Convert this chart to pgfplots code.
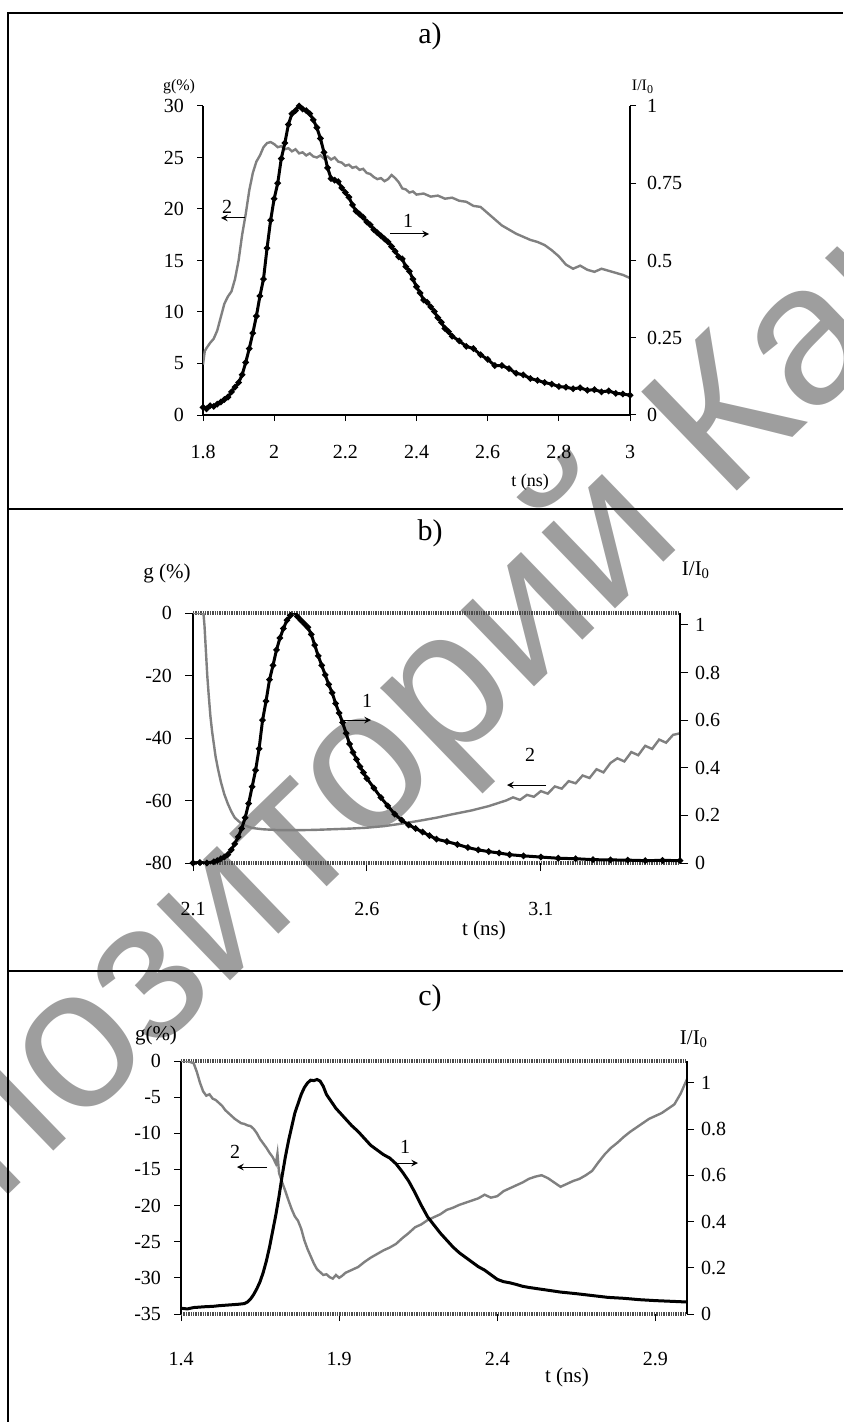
\documentclass[border=0pt]{standalone}
\usepackage{fontspec}
\setmainfont{Liberation Serif}
\newfontfamily\wmfont{Liberation Sans}
\usepackage{pgfplots}
\pgfplotsset{compat=1.18}

% ---------------- data ----------------
\pgfplotstableread{
t I
1.800 0.025
1.810 0.020
1.820 0.030
1.830 0.028
1.840 0.035
1.850 0.042
1.860 0.050
1.870 0.058
1.880 0.075
1.890 0.090
1.900 0.105
1.910 0.130
1.920 0.170
1.930 0.215
1.940 0.265
1.950 0.320
1.960 0.385
1.970 0.440
1.980 0.540
1.990 0.630
2.000 0.700
2.010 0.750
2.020 0.830
2.030 0.880
2.040 0.940
2.050 0.975
2.060 0.985
2.070 1.000
2.080 0.990
2.090 0.985
2.100 0.975
2.110 0.955
2.120 0.930
2.130 0.895
2.140 0.850
2.150 0.800
2.160 0.765
2.170 0.760
2.180 0.755
2.190 0.735
2.200 0.720
2.210 0.705
2.220 0.680
2.230 0.660
2.240 0.650
2.250 0.640
2.260 0.625
2.270 0.615
2.280 0.600
2.290 0.590
2.300 0.580
2.310 0.570
2.320 0.560
2.330 0.545
2.340 0.530
2.350 0.512
2.360 0.505
2.370 0.480
2.380 0.465
2.390 0.440
2.400 0.415
2.410 0.395
2.420 0.372
2.430 0.365
2.440 0.350
2.450 0.335
2.460 0.315
2.470 0.300
2.480 0.280
2.490 0.270
2.500 0.255
2.520 0.240
2.540 0.222
2.560 0.215
2.580 0.195
2.600 0.180
2.620 0.160
2.640 0.160
2.660 0.150
2.680 0.135
2.700 0.130
2.720 0.118
2.740 0.112
2.760 0.105
2.780 0.100
2.800 0.092
2.820 0.090
2.840 0.085
2.860 0.088
2.880 0.080
2.900 0.082
2.920 0.075
2.940 0.078
2.960 0.070
2.980 0.068
3.000 0.064
}\dataAone

\pgfplotstableread{
t g
1.800 4.9
1.805 6.2
1.810 6.5
1.820 7.0
1.830 7.4
1.840 8.2
1.850 9.5
1.860 10.8
1.870 11.5
1.880 12.0
1.890 13.2
1.900 15.0
1.910 17.5
1.920 19.5
1.930 21.8
1.940 23.5
1.950 24.6
1.960 25.2
1.970 26.0
1.980 26.4
1.990 26.5
2.000 26.3
2.010 26.0
2.020 26.1
2.030 25.8
2.040 25.9
2.050 25.6
2.060 25.8
2.070 25.4
2.080 25.5
2.090 25.2
2.100 25.4
2.110 25.1
2.120 25.0
2.130 25.2
2.140 24.9
2.150 25.1
2.160 24.8
2.170 25.0
2.180 24.6
2.190 24.5
2.200 24.2
2.210 24.3
2.220 24.0
2.230 24.1
2.240 23.8
2.250 23.9
2.260 23.5
2.270 23.4
2.280 23.1
2.290 22.9
2.300 23.0
2.310 22.7
2.320 22.9
2.330 23.3
2.340 23.0
2.350 22.6
2.360 22.0
2.370 21.9
2.380 21.6
2.390 21.7
2.400 21.4
2.420 21.5
2.440 21.2
2.460 21.3
2.480 21.0
2.500 21.1
2.520 20.8
2.540 20.7
2.560 20.3
2.580 20.2
2.600 19.6
2.620 19.0
2.640 18.4
2.660 18.0
2.680 17.6
2.700 17.3
2.720 17.0
2.740 16.8
2.760 16.5
2.780 16.0
2.800 15.4
2.820 14.6
2.840 14.2
2.860 14.5
2.880 14.1
2.900 13.9
2.920 14.2
2.940 14.0
2.960 13.8
2.980 13.6
3.000 13.3
}\dataAtwo

\pgfplotstableread{
t I
2.100 0.000
2.120 0.002
2.140 0.000
2.160 0.005
2.170 0.010
2.180 0.018
2.190 0.025
2.200 0.035
2.210 0.055
2.220 0.080
2.230 0.110
2.240 0.145
2.250 0.190
2.260 0.250
2.270 0.320
2.280 0.390
2.290 0.480
2.300 0.600
2.310 0.680
2.320 0.770
2.330 0.830
2.340 0.895
2.350 0.945
2.360 0.985
2.370 1.020
2.380 1.040
2.390 1.055
2.400 1.035
2.410 1.020
2.420 1.005
2.430 0.990
2.440 0.960
2.450 0.915
2.460 0.870
2.470 0.830
2.480 0.790
2.490 0.750
2.500 0.715
2.510 0.670
2.520 0.630
2.530 0.590
2.540 0.545
2.550 0.500
2.560 0.465
2.570 0.435
2.580 0.405
2.590 0.380
2.600 0.355
2.620 0.315
2.640 0.275
2.660 0.240
2.680 0.205
2.700 0.180
2.720 0.160
2.740 0.145
2.760 0.130
2.780 0.115
2.800 0.100
2.830 0.090
2.860 0.078
2.890 0.065
2.920 0.055
2.950 0.048
2.980 0.042
3.010 0.035
3.050 0.030
3.100 0.025
3.150 0.020
3.200 0.018
3.250 0.014
3.300 0.013
3.350 0.012
3.400 0.010
3.450 0.011
3.500 0.010
}\dataBone

\pgfplotstableread{
t g
2.100 0
2.130 0
2.133 -4
2.137 -12
2.141 -20
2.145 -26
2.150 -33
2.155 -38
2.160 -42
2.165 -46
2.172 -50
2.180 -54
2.190 -58
2.200 -61
2.210 -63.5
2.220 -65.5
2.235 -67
2.250 -68
2.270 -68.8
2.300 -69.2
2.350 -69.5
2.400 -69.5
2.450 -69.4
2.500 -69.2
2.550 -69.0
2.600 -68.7
2.650 -68.2
2.700 -67.4
2.750 -66.5
2.800 -65.5
2.850 -64.3
2.900 -63.2
2.950 -61.8
3.000 -60.0
3.020 -59.0
3.040 -59.8
3.060 -58.2
3.080 -58.8
3.100 -57.0
3.120 -57.8
3.140 -55.5
3.160 -56.2
3.180 -53.8
3.200 -54.5
3.220 -52.0
3.240 -52.8
3.260 -50.0
3.280 -51.0
3.300 -48.0
3.320 -46.5
3.340 -47.5
3.360 -44.5
3.380 -45.5
3.400 -42.5
3.420 -43.5
3.440 -40.5
3.460 -41.5
3.480 -39.0
3.500 -38.5
}\dataBtwo

\pgfplotstableread{
t I
1.400 0.025
1.420 0.022
1.440 0.028
1.460 0.030
1.480 0.032
1.500 0.033
1.520 0.036
1.540 0.038
1.560 0.040
1.580 0.042
1.600 0.045
1.610 0.052
1.620 0.065
1.630 0.085
1.640 0.110
1.650 0.140
1.660 0.180
1.670 0.230
1.680 0.290
1.690 0.360
1.700 0.430
1.710 0.510
1.720 0.600
1.730 0.680
1.740 0.750
1.750 0.810
1.760 0.870
1.770 0.910
1.780 0.950
1.790 0.980
1.800 1.000
1.810 1.012
1.820 1.010
1.830 1.015
1.840 1.008
1.850 0.985
1.860 0.950
1.870 0.930
1.880 0.910
1.890 0.890
1.900 0.875
1.920 0.845
1.940 0.815
1.960 0.790
1.980 0.760
2.000 0.730
2.020 0.710
2.040 0.690
2.060 0.675
2.080 0.650
2.100 0.615
2.120 0.575
2.140 0.525
2.160 0.470
2.180 0.420
2.200 0.385
2.220 0.350
2.240 0.320
2.260 0.290
2.280 0.265
2.300 0.245
2.320 0.225
2.340 0.205
2.360 0.190
2.380 0.170
2.400 0.150
2.420 0.140
2.440 0.135
2.460 0.128
2.480 0.120
2.500 0.115
2.550 0.105
2.600 0.095
2.650 0.088
2.700 0.080
2.750 0.072
2.800 0.068
2.850 0.062
2.900 0.058
2.950 0.055
3.000 0.052
}\dataCone

\pgfplotstableread{
t g
1.400 0.0
1.420 0.0
1.440 -0.3
1.450 -1.5
1.460 -3.0
1.470 -4.2
1.480 -4.8
1.490 -4.6
1.500 -5.2
1.510 -5.4
1.520 -5.8
1.530 -6.2
1.540 -6.8
1.550 -7.2
1.560 -7.6
1.570 -8.0
1.580 -8.3
1.590 -8.6
1.600 -8.7
1.610 -8.9
1.620 -9.0
1.630 -9.4
1.640 -10.0
1.650 -10.8
1.660 -11.4
1.670 -12.0
1.680 -12.7
1.690 -13.3
1.700 -14.2
1.705 -12.8
1.710 -15.5
1.720 -16.8
1.730 -18.0
1.740 -19.3
1.750 -20.5
1.760 -21.5
1.770 -22.1
1.780 -23.2
1.790 -24.8
1.800 -26.0
1.810 -27.0
1.820 -28.0
1.830 -28.8
1.840 -29.2
1.850 -29.6
1.860 -29.5
1.870 -29.9
1.880 -30.1
1.890 -29.6
1.900 -30.0
1.910 -29.7
1.920 -29.3
1.940 -28.9
1.960 -28.5
1.980 -27.8
2.000 -27.2
2.020 -26.7
2.040 -26.2
2.060 -25.8
2.080 -25.3
2.100 -24.5
2.120 -23.8
2.140 -23.0
2.160 -22.6
2.180 -22.0
2.200 -21.6
2.220 -21.2
2.240 -20.6
2.260 -20.3
2.280 -19.9
2.300 -19.6
2.320 -19.3
2.340 -19.0
2.360 -18.5
2.380 -18.9
2.400 -18.7
2.420 -18.0
2.440 -17.6
2.460 -17.2
2.480 -16.8
2.500 -16.3
2.520 -16.0
2.540 -15.8
2.560 -16.2
2.580 -16.8
2.600 -17.4
2.620 -17.0
2.640 -16.6
2.660 -16.3
2.680 -15.8
2.700 -15.2
2.720 -14.0
2.740 -12.9
2.760 -12.0
2.780 -11.3
2.800 -10.5
2.820 -9.8
2.840 -9.2
2.860 -8.6
2.880 -8.0
2.900 -7.6
2.920 -7.2
2.940 -6.6
2.960 -6.0
2.980 -4.5
3.000 -2.5
}\dataCtwo

\tikzset{
  dotline/.style={line width=1.6pt, black!70, dash pattern=on 0.7pt off 0.5pt},
  curveone/.style={black, line width=1.5pt, mark=*, mark size=0.7pt},
  curvetwo/.style={black!50, line width=1.2pt},
}
\pgfplotsset{
  base/.style={
    scale only axis, anchor=south west,
    /pgf/number format/assume math mode=true,
    tick label style={font=\fontsize{10}{12}\selectfont},
    tick align=outside, major tick length=3pt,
    tick style={black, line width=0.5pt},
    axis line style={-, line width=0.6pt},
    every outer x axis line/.append style={-},
    every outer y axis line/.append style={-},
    xticklabel style={yshift=-12pt},
  },
}

\begin{document}
\begin{tikzpicture}
\begin{scope}[x=0.5pt, y=-0.5pt]
  \path[use as bounding box] (0,0) rectangle (843,1422);
  % watermark
  \node[rotate=44, anchor=base west, inner sep=0pt, text=black!38,
        font=\wmfont\fontsize{100}{100}\selectfont] at (-172,1369) {Репозиторий КарГУ};
  % frame
  \draw[line width=1.1pt] (8,1422) -- (8,13) -- (843,13);
  \draw[line width=1.1pt] (8,509) -- (843,509);
  \draw[line width=1.1pt] (8,971) -- (843,971);
\end{scope}

% ================= panel a =================
\begin{axis}[base, at={(101.5pt,-207.5pt)}, width=213.5pt, height=154.5pt,
  xmin=1.8, xmax=3, ymin=0, ymax=30,
  axis x line*=bottom, axis y line*=left,
  xticklabel style={yshift=3.5pt},
  xtick={1.8,2,2.2,2.4,2.6,2.8,3}, xticklabels={1.8,2,2.2,2.4,2.6,2.8,3},
  ytick={0,5,10,15,20,25,30}, yticklabels={0,5,10,15,20,25,30},
  yticklabel style={xshift=-3pt}]
  \addplot[curvetwo] table[x=t,y=g] {\dataAtwo};
\end{axis}
\begin{axis}[base, at={(101.5pt,-207.5pt)}, width=213.5pt, height=154.5pt,
  xmin=1.8, xmax=3, ymin=0, ymax=1,
  axis x line=none, axis y line*=right,
  ytick={0,0.25,0.5,0.75,1}, yticklabels={0,0.25,0.5,0.75,1},
  yticklabel style={xshift=2pt}]
  \addplot[curveone] table[x=t,y=I] {\dataAone};
\end{axis}

% ================= panel b =================
\begin{axis}[base, at={(96.5pt,-431.5pt)}, width=243.5pt, height=125pt,
  xmin=2.1, xmax=3.5, ymin=-80, ymax=0,
  separate axis lines, x axis line style={dotline}, y axis line style={line width=0.6pt},
  xtick pos=left, ytick pos=left, major tick length=4pt,
  xtick={2.1,2.6,3.1}, xticklabels={2.1,2.6,3.1},
  ytick={-80,-60,-40,-20,0}, yticklabels={-80,-60,-40,-20,0},
  yticklabel style={xshift=-3pt}]
  \addplot[curvetwo] table[x=t,y=g] {\dataBtwo};
\end{axis}
\begin{axis}[base, at={(96.5pt,-431.5pt)}, width=243.5pt, height=125pt,
  xmin=2.1, xmax=3.5, ymin=0, ymax=1.05,
  axis x line=none, axis y line*=right, major tick length=4pt,
  ytick={0,0.2,0.4,0.6,0.8,1}, yticklabels={0,0.2,0.4,0.6,0.8,1}]
  \addplot[curveone] table[x=t,y=I] {\dataBone};
\end{axis}

% ================= panel c =================
\begin{axis}[base, at={(90.5pt,-657pt)}, width=253pt, height=126.5pt,
  xmin=1.4, xmax=3.0, ymin=-35, ymax=0,
  separate axis lines, x axis line style={dotline}, y axis line style={line width=0.6pt},
  xtick pos=left, ytick pos=left, major tick length=3.5pt,
  xtick={1.4,1.9,2.4,2.9}, xticklabels={1.4,1.9,2.4,2.9},
  ytick={-35,-30,-25,-20,-15,-10,-5,0}, yticklabels={-35,-30,-25,-20,-15,-10,-5,0},
  yticklabel style={xshift=-3pt}]
  \addplot[curvetwo] table[x=t,y=g] {\dataCtwo};
\end{axis}
\begin{axis}[base, at={(90.5pt,-657pt)}, width=253pt, height=126.5pt,
  xmin=1.4, xmax=3.0, ymin=0, ymax=1.095,
  axis x line=none, axis y line*=right, major tick length=3.5pt,
  ytick={0,0.2,0.4,0.6,0.8,1}, yticklabels={0,0.2,0.4,0.6,0.8,1}]
  \addplot[black, line width=1.5pt] table[x=t,y=I] {\dataCone};
\end{axis}

% ================= labels =================
\begin{scope}[x=0.5pt, y=-0.5pt]
  \node[font=\fontsize{15}{18}\selectfont] at (430,36) {a)};
  \node[font=\fontsize{15}{18}\selectfont] at (430,533) {b)};
  \node[font=\fontsize{15}{18}\selectfont] at (430,998) {c)};

  \node[font=\fontsize{8}{10}\selectfont] at (179,87) {g(\%)};
  \node[font=\fontsize{8}{10}\selectfont] at (643,87) {I/I\textsubscript{0}};
  \node[font=\fontsize{9}{11}\selectfont] at (530,482) {t (ns)};

  \node[font=\fontsize{10.5}{12}\selectfont] at (167,573) {g (\%)};
  \node[font=\fontsize{10.5}{12}\selectfont] at (696,570) {I/I\textsubscript{0}};
  \node[font=\fontsize{10.5}{12}\selectfont] at (484,930) {t (ns)};

  \node[font=\fontsize{10.5}{12}\selectfont] at (156,1035) {g(\%)};
  \node[font=\fontsize{10.5}{12}\selectfont] at (694,1039) {I/I\textsubscript{0}};
  \node[font=\fontsize{10.5}{12}\selectfont] at (567,1377) {t (ns)};

  % curve markers
  \node[font=\fontsize{10}{12}\selectfont] at (227,207) {2};
  \draw[-stealth, line width=0.5pt] (245,218) -- (221,218);
  \node[font=\fontsize{10}{12}\selectfont] at (408,221) {1};
  \draw[-stealth, line width=0.5pt] (390,234) -- (429,234);

  \node[font=\fontsize{10}{12}\selectfont] at (367,701) {1};
  \draw[-stealth, line width=0.5pt] (343,720) -- (371,720);
  \node[font=\fontsize{10}{12}\selectfont] at (530,755) {2};
  \draw[-stealth, line width=0.5pt] (546,785) -- (507,785);

  \node[font=\fontsize{10}{12}\selectfont] at (235,1152) {2};
  \draw[-stealth, line width=0.5pt] (267,1167) -- (237,1167);
  \node[font=\fontsize{10}{12}\selectfont] at (405,1147) {1};
  \draw[-stealth, line width=0.5pt] (395,1163) -- (418,1163);
\end{scope}
\end{tikzpicture}
\end{document}
